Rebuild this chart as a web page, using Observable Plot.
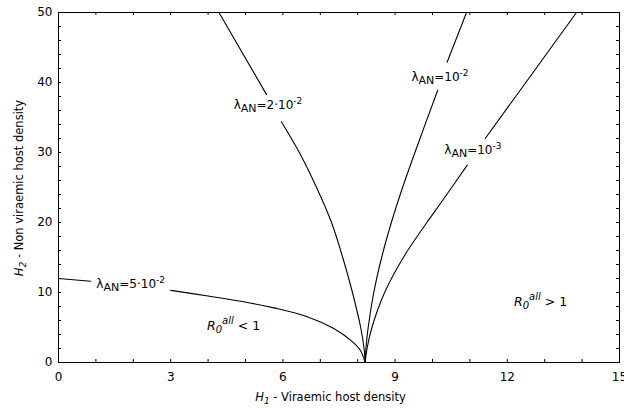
<!DOCTYPE html>
<html><head><meta charset="utf-8">
<script src="https://cdn.jsdelivr.net/npm/d3@7"></script>
<script src="https://cdn.jsdelivr.net/npm/@observablehq/plot@0.6"></script>
<style>body{margin:0;background:#fff}</style>
</head><body><div id="chart"></div>
<script>
// ---- data ----
const xMajorTicks = [0, 3, 6, 9, 12, 15];
const yMajorTicks = [0, 10, 20, 30, 40, 50];
const xMinorTicks = [0,1,2,3,4,5,6,7,8,9,10,11,12,13,14,15];
const yMinorTicks = [0,2,4,6,8,10,12,14,16,18,20,22,24,26,28,30,32,34,36,38,40,42,44,46,48,50];

// lambda_AN = 5e-2 (split around its label)
const c5e2a_H1 = [0, 0.86];
const c5e2a_H2 = [12.0, 11.6];
const c5e2b_H1 = [3.0, 4.0, 4.87, 5.76, 6.65, 7.36, 7.81, 8.07, 8.2];
const c5e2b_H2 = [10.3, 9.5, 8.75, 7.8, 6.55, 4.86, 3.2, 1.76, 0];
// lambda_AN = 2e-2
const c2e2a_H1 = [8.2, 8.17, 8.08, 7.86, 7.6, 7.3, 6.9, 6.44, 5.96];
const c2e2a_H2 = [0, 2, 5, 10, 15, 20, 25, 30, 34.4];
const c2e2b_H1 = [5.56, 4.29];
const c2e2b_H2 = [38.3, 50];
// lambda_AN = 1e-2
const c1e2a_H1 = [8.2, 8.22, 8.28, 8.43, 8.64, 8.9, 9.2, 9.53, 10.14];
const c1e2a_H2 = [0, 2, 5, 10, 15, 20, 25, 30, 38.9];
const c1e2b_H1 = [10.39, 10.91];
const c1e2b_H2 = [42.9, 50];
// lambda_AN = 1e-3
const c1e3a_H1 = [8.2, 8.25, 8.38, 8.72, 9.22, 9.85, 10.25, 10.93];
const c1e3a_H2 = [0, 2, 5, 10, 15, 20, 23.0, 28.2];
const c1e3b_H1 = [11.41, 13.85];
const c1e3b_H2 = [32.0, 50];

// curve labels
const labelMantissa = ["5·10", "2·10", "10", "10"];
const labelExponent = ["-2", "-2", "-2", "-3"];
const labelH1 = [1.93, 5.6, 10.2, 11.08];
const labelH2 = [11.2, 36.7, 40.8, 30.3];

// region labels
const regionText = [" < 1", " > 1"];
const regionH1 = [4.68, 12.89];
const regionH2 = [5.2, 8.66];

// ---- build tables ----
const segs = [
  ["5a", c5e2a_H1, c5e2a_H2], ["5b", c5e2b_H1, c5e2b_H2],
  ["2a", c2e2a_H1, c2e2a_H2], ["2b", c2e2b_H1, c2e2b_H2],
  ["1a", c1e2a_H1, c1e2a_H2], ["1b", c1e2b_H1, c1e2b_H2],
  ["3a", c1e3a_H1, c1e3a_H2], ["3b", c1e3b_H1, c1e3b_H2]
];
const lineRows = [];
for (const [id, xs, ys] of segs) xs.forEach((x, i) => lineRows.push({seg: id, H1: x, H2: ys[i]}));

const rich = {};
const labelRows = labelMantissa.map((m, i) => {
  const key = "lab" + i;
  rich[key] = {parts: [["λ",""],["AN","sub"],["=" + m,""],[labelExponent[i],"sup"]], main: 12, sub: 11, sup: 9, subDy: 3, supDy: -5};
  return {key, H1: labelH1[i], H2: labelH2[i]};
});
const regionRows = regionText.map((t, i) => {
  const key = "reg" + i;
  rich[key] = {parts: [["R","i"],["0","isub"],["all","isup"],[t,""]], main: 12.5, sub: 10, sup: 10, subDy: 3, supDy: -6};
  return {key, H1: regionH1[i], H2: regionH2[i]};
});

const W = 624, H = 408, mL = 58, mR = 5, mT = 12, mB = 46;
const TK = 3;
const innerW = W - mL - mR, innerH = H - mT - mB;

const chart = Plot.plot({
  width: W, height: H,
  marginLeft: mL, marginRight: mR, marginTop: mT, marginBottom: mB,
  style: {fontFamily: "DejaVu Sans", fontSize: "12px", background: "white", color: "black"},
  x: {domain: [0, 15], label: null},
  y: {domain: [0, 50], label: null},
  marks: [
    Plot.line(lineRows, {x: "H1", y: "H2", z: "seg", stroke: "black", strokeWidth: 1.1, curve: "catmull-rom"}),
    Plot.text(labelRows, {x: "H1", y: "H2", text: "key", fill: "black", textAnchor: "middle"}),
    Plot.text(regionRows, {x: "H1", y: "H2", text: "key", fill: "black", textAnchor: "middle"}),
    // inward minor ticks on all four sides
    Plot.tickX(xMinorTicks, {x: d => d, stroke: "black", strokeWidth: 1, insetTop: innerH - TK}),
    Plot.tickX(xMinorTicks, {x: d => d, stroke: "black", strokeWidth: 1, insetBottom: innerH - TK}),
    Plot.tickY(yMinorTicks, {y: d => d, stroke: "black", strokeWidth: 1, insetRight: innerW - TK}),
    Plot.tickY(yMinorTicks, {y: d => d, stroke: "black", strokeWidth: 1, insetLeft: innerW - TK}),
    Plot.frame({stroke: "black", strokeWidth: 1}),
    Plot.axisX({anchor: "bottom", ticks: xMajorTicks, tickSize: 0, tickPadding: 10, label: null, fontSize: 12}),
    Plot.axisY({anchor: "left", ticks: yMajorTicks, tickSize: 0, tickPadding: 6, label: null, fontSize: 12})
  ]
});

function applyRich(el, spec) {
  const sel = d3.select(el);
  sel.text(null);
  let prev = 0;
  for (const [str, kind] of spec.parts) {
    const isSub = kind.includes("sub"), isSup = kind.includes("sup");
    const shift = isSub ? spec.subDy : isSup ? spec.supDy : 0;
    const ts = sel.append("tspan").text(str);
    if (shift - prev !== 0) ts.attr("dy", shift - prev);
    ts.attr("font-size", isSub ? spec.sub : isSup ? spec.sup : spec.main);
    if (kind.includes("i")) ts.attr("font-style", "italic");
    prev = shift;
  }
}

d3.select(chart).selectAll("text").each(function () {
  const k = this.textContent;
  if (rich[k]) applyRich(this, rich[k]);
});

// axis titles
const svg = d3.select(chart);
const xt = svg.append("text")
  .attr("x", (mL + W - mR) / 2 - 8).attr("y", 401)
  .attr("text-anchor", "middle").attr("fill", "black")
  .attr("font-family", "DejaVu Sans").node();
applyRich(xt, {parts: [["H","i"],["1","isub"],[" - Viraemic host density",""]], main: 11.5, sub: 9, sup: 9, subDy: 3, supDy: -5});
const yt = svg.append("text")
  .attr("transform", `translate(23,${(mT + H - mB) / 2 + 1}) rotate(-90)`)
  .attr("text-anchor", "middle").attr("fill", "black")
  .attr("font-family", "DejaVu Sans").node();
applyRich(yt, {parts: [["H","i"],["2","isub"],[" - Non viraemic host density",""]], main: 11.5, sub: 9, sup: 9, subDy: 3, supDy: -5});

document.getElementById("chart").appendChild(chart);
</script></body></html>
